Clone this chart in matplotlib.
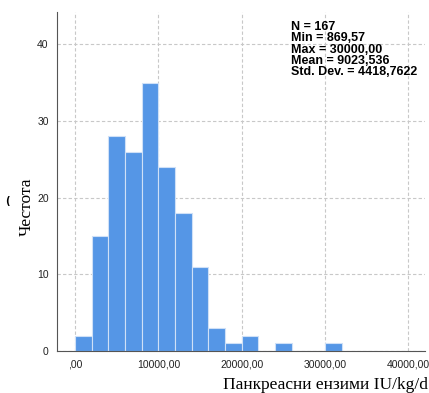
import matplotlib.pyplot as plt
import numpy as np

# histogram data (bin width 2000)
bin_edges = np.arange(0, 34000, 2000)
counts = [2, 15, 28, 26, 35, 24, 18, 11, 3, 1, 2, 0, 1, 0, 0, 1]
x_ticks = [0, 10000, 20000, 30000, 40000]
x_tick_labels = [",00", "10000,00", "20000,00", "30000,00", "40000,00"]
y_ticks = [0, 10, 20, 30, 40]
stats_lines = ["N = 167", "Min = 869,57", "Max = 30000,00",
               "Mean = 9023,536", "Std. Dev. = 4418,7622"]

fig = plt.figure(figsize=(4.29, 3.93), dpi=100)
ax = fig.add_axes([57 / 429, 42 / 393, 368 / 429, 339 / 393])

ax.bar(bin_edges[:-1], counts, width=2000, align='edge',
       color='#5596e6', edgecolor='#cfe0f7', linewidth=0.8, zorder=2)

ax.set_xlim(-2160, 42000)
ax.set_ylim(0, 44.2)

ax.set_xticks(x_ticks)
ax.set_xticklabels(x_tick_labels)
ax.set_yticks(y_ticks)
ax.tick_params(length=0, labelsize=7.5, colors='#222222', pad=6)
for lab in ax.get_xticklabels() + ax.get_yticklabels():
    lab.set_family('Liberation Sans')

ax.grid(True, color='#c8c8c8', linestyle=(0, (3, 2)), linewidth=0.8, zorder=0)
ax.set_axisbelow(True)

for s in ['top', 'right']:
    ax.spines[s].set_visible(False)
ax.spines['left'].set_color('#555555')
ax.spines['bottom'].set_color('#555555')

ax.set_ylabel("Честота", family='Liberation Serif', fontsize=12.5,
              va='center')
ax.yaxis.set_label_coords(-0.082, 0.425)
ax.set_xlabel("Панкреасни ензими IU/kg/d", family='Liberation Serif',
              fontsize=12.5, ha='right', va='center')
ax.xaxis.set_label_coords(1.008, -0.1)

# small stray mark left of the y label
fig.text(0.017, 1 - 201 / 393, "(", fontsize=7, fontweight='bold',
         color='black', family='DejaVu Sans', ha='center', va='center')

ax.text(291 / 429, 1 - 21 / 393, "\n".join(stats_lines), transform=fig.transFigure,
        fontsize=9, fontweight='bold', family='Liberation Sans',
        va='top', ha='left', linespacing=0.92)

fig.savefig("out.png", dpi=100)
